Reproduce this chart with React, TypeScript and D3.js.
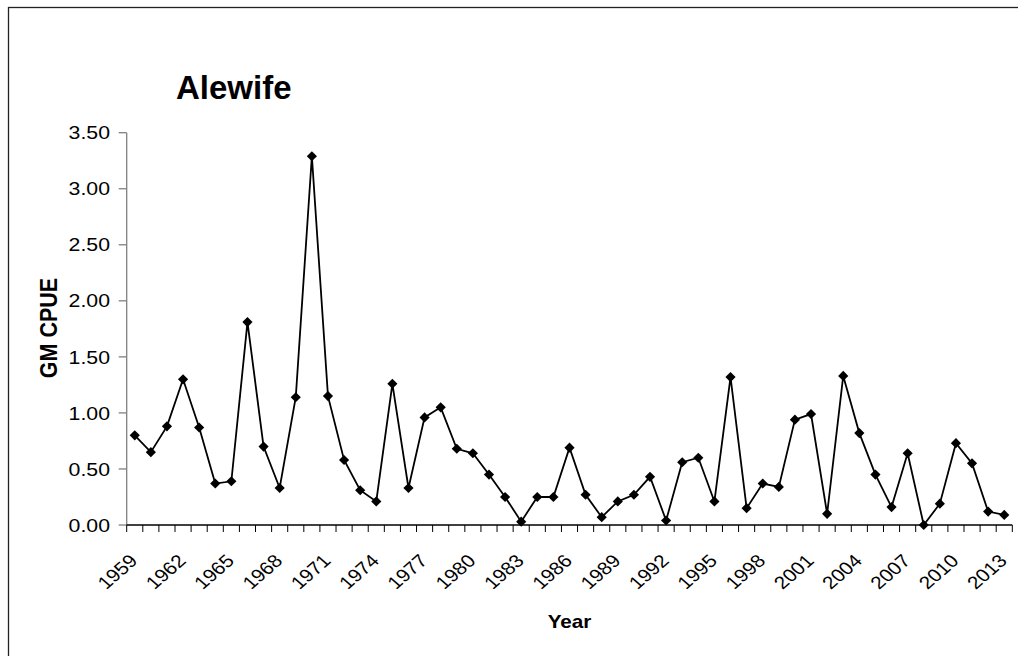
import React from "react";
import * as d3 from "d3";

const years: number[] = [
  1959, 1960, 1961, 1962, 1963, 1964, 1965, 1966, 1967, 1968, 1969, 1970, 1971, 1972,
  1973, 1974, 1975, 1976, 1977, 1978, 1979, 1980, 1981, 1982, 1983, 1984, 1985, 1986,
  1987, 1988, 1989, 1990, 1991, 1992, 1993, 1994, 1995, 1996, 1997, 1998, 1999, 2000,
  2001, 2002, 2003, 2004, 2005, 2006, 2007, 2008, 2009, 2010, 2011, 2012, 2013,
];
const cpue: number[] = [
  0.8, 0.65, 0.88, 1.3, 0.87, 0.37, 0.39, 1.81, 0.7, 0.33, 1.14, 3.29, 1.15, 0.58,
  0.31, 0.21, 1.26, 0.33, 0.96, 1.05, 0.68, 0.64, 0.45, 0.25, 0.03, 0.25, 0.25, 0.69,
  0.27, 0.07, 0.21, 0.27, 0.43, 0.04, 0.56, 0.6, 0.21, 1.32, 0.15, 0.37, 0.34, 0.94,
  0.99, 0.1, 1.33, 0.82, 0.45, 0.16, 0.64, 0.0, 0.19, 0.73, 0.55, 0.12, 0.09,
];
const yTicks: number[] = [0, 0.5, 1, 1.5, 2, 2.5, 3, 3.5];
const xLabelYears: number[] = years.filter((_, i) => i % 3 === 0);

const title = "Alewife";
const yTitle = "GM CPUE";
const xTitle = "Year";

export default function App() {
  const W = 1018;
  const H = 656;
  const left = 126.7;
  const right = 1012.3;
  const top = 132.7;
  const bottom = 525;
  const sx = 1.15;

  const x = d3.scaleBand<number>().domain(years).range([left, right]).padding(0);
  const y = d3.scaleLinear().domain([0, 3.5]).range([bottom, top]);
  const cx = (yr: number) => (x(yr) as number) + x.bandwidth() / 2;

  const line = d3
    .line<number>()
    .x((_, i) => cx(years[i]))
    .y((d) => y(d));

  const diamond = d3.symbol().type(d3.symbolDiamond2).size(66)() as string;

  const tickEdges = years.map((yr) => x(yr) as number).concat([right]);
  const font = "Arial, 'Liberation Sans', sans-serif";

  return (
    <svg
      width={W}
      height={H}
      style={{ position: "absolute", left: 0, top: 0, background: "#fff" }}
      fontFamily={font}
    >
      <rect x={0} y={0} width={W} height={H} fill="#fff" />
      <rect x={8.5} y={7.5} width={1030} height={680} fill="none" stroke="#222" strokeWidth={1.3} />

      <text x={176} y={99} fontSize={33} fontWeight="bold" fill="#000">
        {title}
      </text>

      {/* y axis */}
      <line x1={left} x2={left} y1={top} y2={bottom} stroke="#808080" strokeWidth={1.3} />
      {yTicks.map((t) => (
        <g key={t}>
          <line x1={left - 8} x2={left} y1={y(t)} y2={y(t)} stroke="#808080" strokeWidth={1.3} />
          <text
            transform={`translate(110,${y(t)}) scale(${sx},1)`}
            dy="0.36em"
            textAnchor="end"
            fontSize={18.5}
            fill="#000"
          >
            {t.toFixed(2)}
          </text>
        </g>
      ))}
      <text
        transform={`translate(48.5,328) scale(${sx},1) rotate(-90)`}
        textAnchor="middle"
        fontSize={21.5}
        fontWeight="bold"
        dy="0.36em"
      >
        {yTitle}
      </text>

      {/* x axis */}
      <line x1={left} x2={right} y1={bottom} y2={bottom} stroke="#000" strokeWidth={1.3} />
      {tickEdges.map((tx, i) => (
        <line key={i} x1={tx} x2={tx} y1={bottom} y2={bottom + 7} stroke="#000" strokeWidth={1} />
      ))}
      {xLabelYears.map((yr) => (
        <text
          key={yr}
          transform={`translate(${cx(yr) + 4},562) scale(${sx},1) rotate(-45)`}
          textAnchor="end"
          fontSize={18}
          fill="#000"
        >
          {yr}
        </text>
      ))}
      <text
        transform={`translate(${(left + right) / 2},628) scale(${sx},1)`}
        textAnchor="middle"
        fontSize={18}
        fontWeight="bold"
      >
        {xTitle}
      </text>

      {/* series */}
      <path d={line(cpue) as string} fill="none" stroke="#000" strokeWidth={1.8} />
      {cpue.map((v, i) => (
        <path key={years[i]} d={diamond} transform={`translate(${cx(years[i])},${y(v)})`} fill="#000" />
      ))}
    </svg>
  );
}
